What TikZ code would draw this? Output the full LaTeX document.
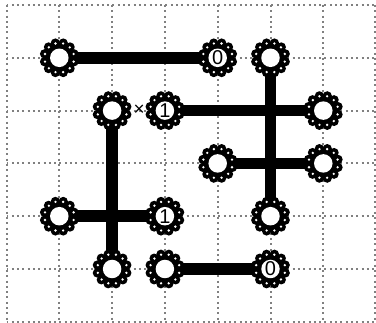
\documentclass[tikz,border=0pt]{standalone}
\usepackage{fontspec}
\setmainfont{Liberation Sans}
\pgfdeclarelayer{bg}
\pgfdeclarelayer{mid}
\pgfsetlayers{bg,mid,main}
\begin{document}
\begin{tikzpicture}[x=1pt,y=-1pt,
  bead/.style={circle,fill=white,minimum size=18.5pt,inner sep=0pt,font=\fontsize{20}{20}\selectfont},
  bar/.style={line width=11.5pt},
  gridline/.style={draw=black!50,line width=2pt,dash pattern=on 2pt off 3.3pt},
  mark label/.style={inner sep=0pt,font=\fontsize{19}{19}\selectfont}]
\useasboundingbox (0,0) rectangle (376,323);
% nodes
\node[bead] (a) at (59.3,57.8) {};
\node[bead] (b) at (217.7,57.8) {0};
\node[bead] (c) at (270.5,57.8) {};
\node[bead] (d) at (112.1,110.6) {};
\node[bead] (e) at (164.9,110.6) {1};
\node[bead] (f) at (323.3,110.6) {};
\node[bead] (g) at (217.7,163.4) {};
\node[bead] (h) at (323.3,163.4) {};
\node[bead] (i) at (59.3,216.2) {};
\node[bead] (k) at (164.9,216.2) {1};
\node[bead] (l) at (270.5,216.2) {};
\node[bead] (m) at (112.1,269.0) {};
\node[bead] (n) at (164.9,269.0) {};
\node[bead] (o) at (270.5,269.0) {0};
\node[mark label] (x) at (139.2,110.6) {×};
\begin{pgfonlayer}{bg}
  \foreach \i in {0,...,7} {
    \draw[gridline] ({min(6.5+52.8*\i,375)},5) -- ({min(6.5+52.8*\i,375)},322);
  }
  \foreach \j in {0,...,6} {
    \draw[gridline] (6.5,{min(5+52.8*\j,322)}) -- (376,{min(5+52.8*\j,322)});
  }
  \draw[bar] (a.center) -- (b.center);
  \draw[bar] (c.center) -- (l.center);
  \draw[bar] (e.center) -- (f.center);
  \draw[bar] (g.center) -- (h.center);
  \draw[bar] (d.center) -- (m.center);
  \draw[bar] (i.center) -- (k.center);
  \draw[bar] (n.center) -- (o.center);
\end{pgfonlayer}
\begin{pgfonlayer}{mid}
  \foreach \n in {a,b,c,d,e,f,g,h,i,k,l,m,n,o} {
    \fill (\n.center) circle (16);
    \foreach \k in {15,45,...,345} {
      \fill (\n.center) ++(\k:15.2) circle (4.7);
    }
    \foreach \k in {15,45,...,345} {
      \fill[white] (\n.center) ++(\k:14.8) circle (1.3);
    }
  }
\end{pgfonlayer}
\end{tikzpicture}
\end{document}
